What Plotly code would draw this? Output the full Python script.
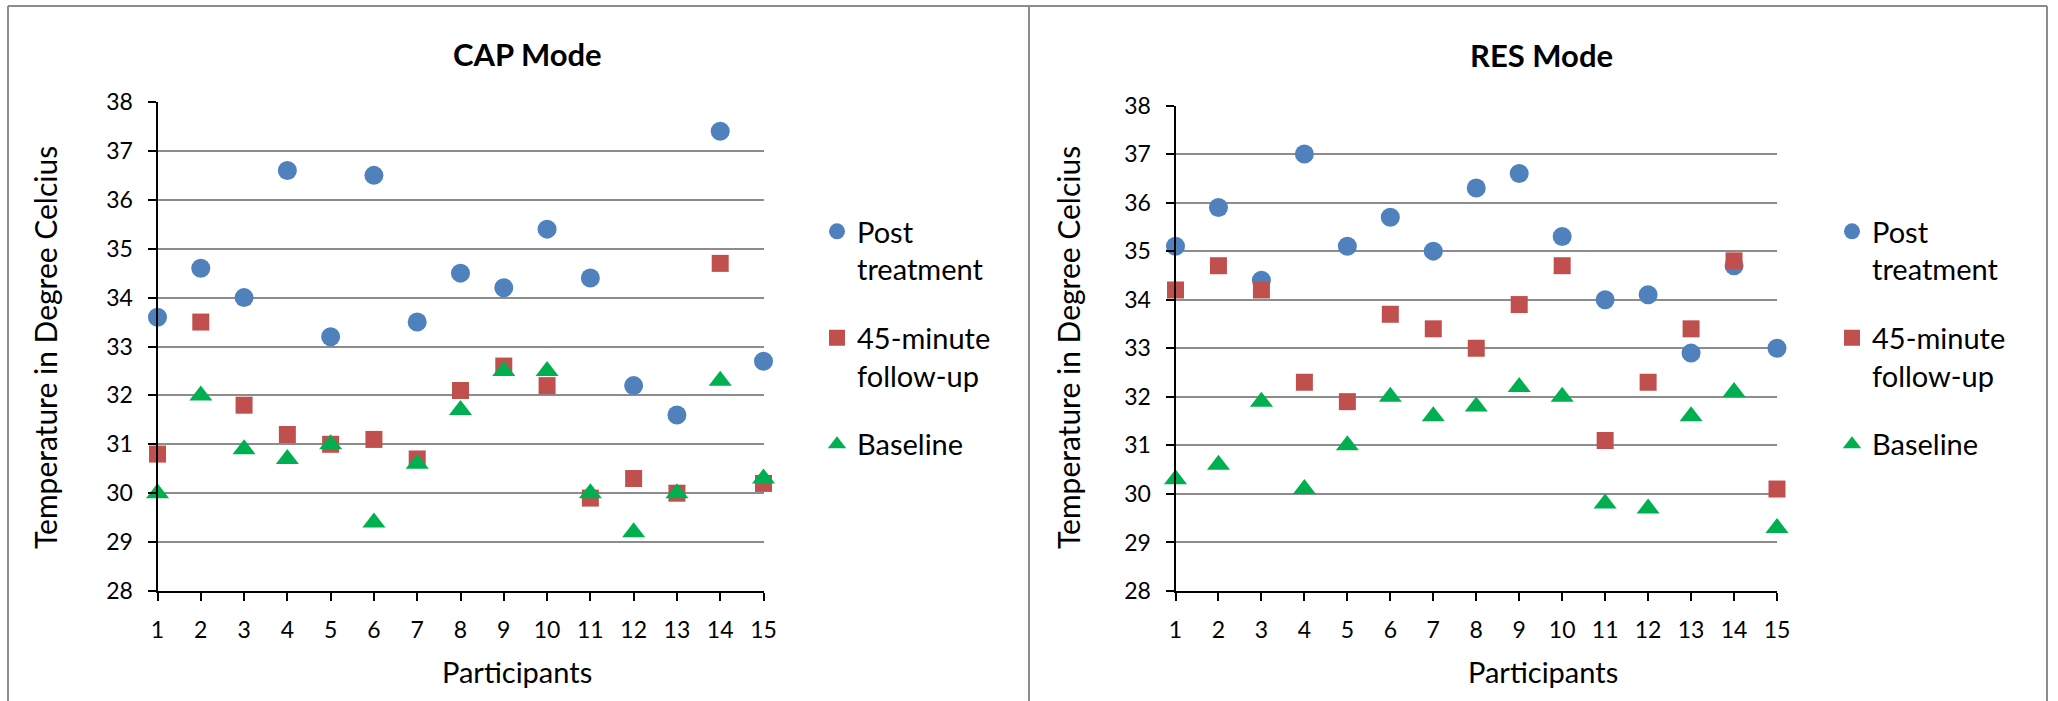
import plotly.graph_objects as go

participants = list(range(1, 15 + 1))

series_names = ["Post<br>treatment", "45-minute<br>follow-up", "Baseline"]

cap_post = [33.6, 34.6, 34.0, 36.6, 33.2, 36.5, 33.5, 34.5, 34.2, 35.4, 34.4, 32.2, 31.6, 37.4, 32.7]
cap_follow = [30.8, 33.5, 31.8, 31.2, 31.0, 31.1, 30.7, 32.1, 32.6, 32.2, 29.9, 30.3, 30.0, 34.7, 30.2]
cap_base = [30.0, 32.0, 30.9, 30.7, 31.0, 29.4, 30.6, 31.7, 32.5, 32.5, 30.0, 29.2, 30.0, 32.3, 30.3]

res_post = [35.1, 35.9, 34.4, 37.0, 35.1, 35.7, 35.0, 36.3, 36.6, 35.3, 34.0, 34.1, 32.9, 34.7, 33.0]
res_follow = [34.2, 34.7, 34.2, 32.3, 31.9, 33.7, 33.4, 33.0, 33.9, 34.7, 31.1, 32.3, 33.4, 34.8, 30.1]
res_base = [30.3, 30.6, 31.9, 30.1, 31.0, 32.0, 31.6, 31.8, 32.2, 32.0, 29.8, 29.7, 31.6, 32.1, 29.3]

y_ticks = list(range(28, 39))

colors = ["#4F81BD", "#C0504D", "#00B050"]
symbols = ["circle", "square", "triangle-up"]
sizes = [19, 17, 20]

FONT = "Lato"
W, H = 2058, 701

fig = go.Figure()

panels = [
    ("x", "y", "legend", [cap_post, cap_follow, cap_base]),
    ("x2", "y2", "legend2", [res_post, res_follow, res_base]),
]
for xa, ya, lg, data in panels:
    for i, vals in enumerate(data):
        fig.add_trace(go.Scatter(
            x=participants, y=vals, mode="markers",
            name=series_names[i],
            marker=dict(color=colors[i], symbol=symbols[i], size=sizes[i], line=dict(width=0)),
            xaxis=xa, yaxis=ya, legend=lg, legendgroup=f"{lg}{i}",
            cliponaxis=False, showlegend=True,
        ))

def px_x(p):
    return p / W

def px_y(p):
    return 1 - p / H

xcommon = dict(
    range=[1, 15], tick0=1, dtick=1, showgrid=False, zeroline=False,
    showline=True, linecolor="black", linewidth=2,
    ticks="outside", ticklen=8, tickwidth=2, tickcolor="black",
    tickfont=dict(family=FONT, size=23, color="black"),
    ticklabelstandoff=9, fixedrange=True, automargin=False,
)
ycommon = dict(
    range=[28, 38], tickvals=y_ticks, showgrid=True, gridcolor="#8c8c8c", gridwidth=2,
    zeroline=False, showline=True, linecolor="black", linewidth=2,
    ticks="outside", ticklen=8, tickwidth=2, tickcolor="black",
    tickfont=dict(family=FONT, size=23, color="black"),
    ticklabelstandoff=10, fixedrange=True, automargin=False,
)

legcommon = dict(
    font=dict(family=FONT, size=29, color="black"),
    valign="top", traceorder="grouped", tracegroupgap=28,
    bgcolor="rgba(0,0,0,0)", xanchor="left", yanchor="top",
    itemclick=False, itemdoubleclick=False,
)

fig.update_layout(
    width=W, height=H, margin=dict(l=0, r=0, t=0, b=0, pad=0, autoexpand=False),
    paper_bgcolor="white", plot_bgcolor="white",
    font=dict(family=FONT, color="black"),
    xaxis=dict(domain=[px_x(157.5), px_x(763.5)], anchor="y", **xcommon),
    yaxis=dict(domain=[px_y(591), px_y(102)], anchor="x", **ycommon),
    xaxis2=dict(domain=[px_x(1175.5), px_x(1777)], anchor="y2", **xcommon),
    yaxis2=dict(domain=[px_y(591), px_y(105.5)], anchor="x2", **ycommon),
    legend=dict(x=px_x(817), y=px_y(206), **legcommon),
    legend2=dict(x=px_x(1832), y=px_y(206), **legcommon),
    showlegend=True,
)

annotations = [
    dict(text="<b>CAP Mode</b>", x=px_x(527), y=px_y(54), size=31),
    dict(text="<b>RES Mode</b>", x=px_x(1541), y=px_y(55), size=31),
    dict(text="Participants", x=px_x(517), y=px_y(671), size=29),
    dict(text="Participants", x=px_x(1543), y=px_y(671), size=29),
]
for a in annotations:
    fig.add_annotation(text=a["text"], x=a["x"], y=a["y"], xref="paper", yref="paper",
                       showarrow=False, xanchor="center", yanchor="middle",
                       font=dict(family=FONT, size=a["size"], color="black"))
for xc in (45, 1068):
    fig.add_annotation(text="Temperature in Degree Celcius", x=px_x(xc), y=px_y(348),
                       xref="paper", yref="paper", showarrow=False, textangle=-90,
                       xanchor="center", yanchor="middle",
                       font=dict(family=FONT, size=30, color="black"))

# outer frame lines
border = dict(color="#8c8c8c", width=2)
fig.add_shape(type="line", xref="paper", yref="paper", x0=px_x(8), x1=px_x(2047), y0=px_y(6), y1=px_y(6), line=border)
for xv in (8, 1029, 2047):
    fig.add_shape(type="line", xref="paper", yref="paper", x0=px_x(xv), x1=px_x(xv), y0=px_y(6), y1=-0.01, line=border)

fig.write_html("out.html", config={"displayModeBar": False, "staticPlot": False},
               post_script="document.body.style.margin='0';")
